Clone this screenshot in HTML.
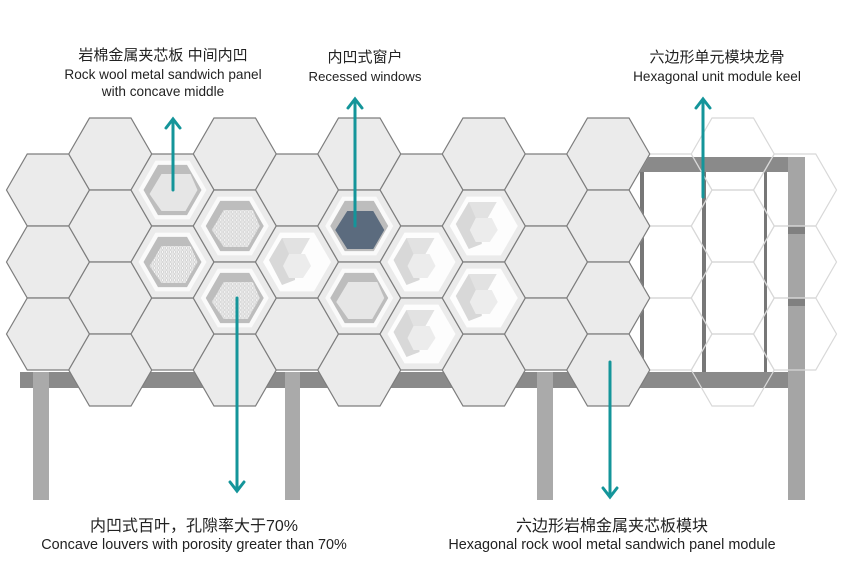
<!DOCTYPE html>
<html><head><meta charset="utf-8"><style>
html,body{margin:0;padding:0;background:#fff;}
svg{display:block;}
.t{font-family:"Liberation Sans","Noto Sans CJK SC",sans-serif;fill:#222;text-anchor:middle;}
</style></head><body>
<svg width="864" height="577" viewBox="0 0 864 577" xmlns="http://www.w3.org/2000/svg">
<defs>
<polygon id="h" points="-41.5,0 -20.75,-36 20.75,-36 41.5,0 20.75,36 -20.75,36"/>
<polygon id="hi" points="-34,0 -17,-29.4 17,-29.4 34,0 17,29.4 -17,29.4"/>
<polygon id="hr" points="-29,0 -14.5,-25.1 14.5,-25.1 29,0 14.5,25.1 -14.5,25.1"/>
<pattern id="dots" width="4" height="4" patternUnits="userSpaceOnUse">
<rect width="4" height="4" fill="#e6e6e6"/><circle cx="2" cy="2" r="1.2" fill="#fff" stroke="#bdbdbd" stroke-width="0.5"/>
</pattern>
<g id="rec">
<use href="#h" fill="#ebebeb" stroke="#7d7d7d" stroke-width="1.2"/>
<use href="#hi" fill="#fafafa"/>
<use href="#hr" fill="#bdbdbd"/>
<polygon points="-23,4 -11,-16 18,-16 25,0 13,21 -11,21" fill="#e6e6e6"/>
</g>
<g id="perf">
<use href="#h" fill="#ebebeb" stroke="#7d7d7d" stroke-width="1.2"/>
<use href="#hi" fill="#fafafa"/>
<use href="#hr" fill="#bdbdbd"/>
<polygon points="-23,4 -11,-16 18,-16 25,0 13,21 -11,21" fill="url(#dots)"/>
</g>
<g id="win">
<use href="#h" fill="#ebebeb" stroke="#7d7d7d" stroke-width="1.2"/>
<use href="#hi" fill="#fdfdfd"/>
<polygon points="-28,-2 -15,-24 -2,-24 -2,18 -15,23" fill="#d8d8d8"/>
<polygon points="-15,-24 13,-24 4,-8 -8,-8" fill="#e2e2e2"/>
<polygon points="-8,-8 8,-8 14,4 6,16 -8,16 -14,4" fill="#ececec"/>
</g>
</defs>

<!-- frame -->
<g>
<rect x="20" y="372" width="785" height="16" fill="#8a8a8a"/>
<rect x="640" y="157" width="165" height="15" fill="#8a8a8a"/>
<rect x="33" y="372" width="16" height="128" fill="#aaa"/>
<rect x="285" y="372" width="15" height="128" fill="#aaa"/>
<rect x="537" y="372" width="16" height="128" fill="#aaa"/>
<rect x="788" y="157" width="17" height="343" fill="#a5a5a5"/>
<rect x="788" y="226" width="17" height="8" fill="#808080"/>
<rect x="788" y="298" width="17" height="8" fill="#808080"/>
<rect x="640" y="172" width="4" height="200" fill="#777"/>
<rect x="702" y="172" width="4" height="200" fill="#777"/>
<rect x="764" y="172" width="3" height="200" fill="#777"/>
</g>

<!-- outline hexes -->
<g fill="none" stroke="#d8d8d8" stroke-width="1.2">
<use href="#h" x="670.5" y="190"/><use href="#h" x="670.5" y="262"/><use href="#h" x="670.5" y="334"/>
<use href="#h" x="732.75" y="154"/><use href="#h" x="732.75" y="226"/><use href="#h" x="732.75" y="298"/><use href="#h" x="732.75" y="370"/>
<use href="#h" x="795" y="190"/><use href="#h" x="795" y="262"/><use href="#h" x="795" y="334"/>
</g>

<!-- solid hexes -->
<g fill="#ebebeb" stroke="#7d7d7d" stroke-width="1.2">
<use href="#h" x="48" y="190"/><use href="#h" x="48" y="262"/><use href="#h" x="48" y="334"/>
<use href="#h" x="110.25" y="154"/><use href="#h" x="110.25" y="226"/><use href="#h" x="110.25" y="298"/><use href="#h" x="110.25" y="370"/>
<use href="#h" x="172.5" y="334"/>
<use href="#h" x="234.75" y="154"/><use href="#h" x="234.75" y="370"/>
<use href="#h" x="297" y="190"/><use href="#h" x="297" y="334"/>
<use href="#h" x="359.25" y="154"/><use href="#h" x="359.25" y="370"/>
<use href="#h" x="421.5" y="190"/>
<use href="#h" x="483.75" y="154"/><use href="#h" x="483.75" y="370"/>
<use href="#h" x="546" y="190"/><use href="#h" x="546" y="262"/><use href="#h" x="546" y="334"/>
<use href="#h" x="608.25" y="154"/><use href="#h" x="608.25" y="226"/><use href="#h" x="608.25" y="298"/><use href="#h" x="608.25" y="370"/>
</g>

<!-- special hexes -->
<use href="#rec" x="172.5" y="190"/>
<use href="#perf" x="172.5" y="262"/>
<use href="#perf" x="234.75" y="226"/>
<use href="#perf" x="234.75" y="298"/>
<use href="#win" x="297" y="262"/>
<g transform="translate(359.25,226)">
<use href="#h" fill="#ebebeb" stroke="#7d7d7d" stroke-width="1.2"/>
<use href="#hi" fill="#fafafa"/>
<use href="#hr" fill="#bdbdbd"/>
<polygon points="-24,4 -12,-15 14,-15 25,4 14,23 -12,23" fill="#5b6b7e"/>
</g>
<use href="#rec" x="359.25" y="298"/>
<use href="#win" x="421.5" y="262"/>
<use href="#win" x="421.5" y="334"/>
<use href="#win" x="483.75" y="226"/>
<use href="#win" x="483.75" y="298"/>

<!-- arrows -->
<g stroke="#14959a" stroke-width="3" fill="none" stroke-linecap="round">
<line x1="173" y1="190" x2="173" y2="120"/><polyline points="166,128 173,119 180,128"/>
<line x1="355" y1="226" x2="355" y2="100"/><polyline points="348,108 355,99 362,108"/>
<line x1="703" y1="197" x2="703" y2="100"/><polyline points="696,108 703,99 710,108"/>
<line x1="237" y1="298" x2="237" y2="490"/><polyline points="230,482 237,491 244,482"/>
<line x1="610" y1="362" x2="610" y2="496"/><polyline points="603,488 610,497 617,488"/>
</g>

<!-- labels -->
<g class="t">
<text x="163" y="60" font-size="15">岩棉金属夹芯板 中间内凹</text>
<text x="163" y="79" font-size="13.6">Rock wool metal sandwich panel</text>
<text x="163" y="96" font-size="13.6">with concave middle</text>
<text x="365" y="62" font-size="15">内凹式窗户</text>
<text x="365" y="81" font-size="13.2">Recessed windows</text>
<text x="717" y="62" font-size="15">六边形单元模块龙骨</text>
<text x="717" y="81" font-size="13.6">Hexagonal unit module keel</text>
<text x="194" y="531" font-size="16">内凹式百叶，孔隙率大于70%</text>
<text x="194" y="549" font-size="14.4">Concave louvers with porosity greater than 70%</text>
<text x="612" y="531" font-size="16">六边形岩棉金属夹芯板模块</text>
<text x="612" y="549" font-size="14.4">Hexagonal rock wool metal sandwich panel module</text>
</g>
</svg>
</body></html>
